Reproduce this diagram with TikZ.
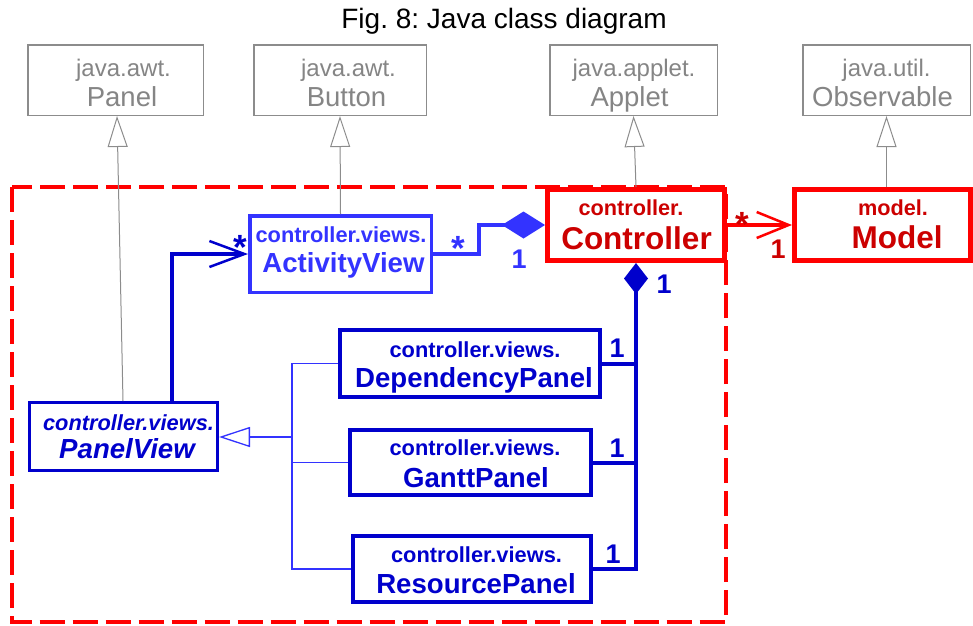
\documentclass[tikz,border=0pt]{standalone}
\usepackage{fontspec}
\setmainfont{Liberation Sans}
\usetikzlibrary{arrows.meta}
\frenchspacing

\definecolor{libline}{HTML}{8C8C8C}
\definecolor{libtext}{HTML}{858585}
\definecolor{ctrlred}{HTML}{FF0000}
\definecolor{ctrltext}{HTML}{CC0000}
\definecolor{viewnavy}{HTML}{0000CC}
\definecolor{viewblue}{HTML}{3333FF}

\tikzset{
  box/.style={draw, rectangle, inner sep=0pt, fill=white},
  libbox/.style={box, draw=libline, line width=1.5pt},
  corebox/.style={box, draw=ctrlred, line width=5pt, minimum height=71pt},
  navybox/.style={box, draw=viewnavy, line width=4pt},
  bluebox/.style={box, draw=viewblue, line width=3.5pt},
  txt/.style={anchor=base, inner sep=0pt},
  libpkg/.style={txt, text=libtext, font=\fontsize{24}{26}\selectfont},
  libname/.style={txt, text=libtext, font=\fontsize{27.5}{30}\selectfont},
  corepkg/.style={txt, text=ctrltext, font=\fontsize{21.7}{24}\selectfont\bfseries},
  corename/.style={txt, text=ctrltext, font=\fontsize{31.5}{34}\selectfont\bfseries},
  viewpkg/.style={txt, font=\fontsize{21.8}{24}\selectfont\bfseries},
  viewname/.style={txt, font=\fontsize{27.6}{30}\selectfont\bfseries},
  mult/.style={txt, font=\fontsize{27}{30}\selectfont\bfseries},
  many/.style={txt, font=\fontsize{35}{38}\selectfont\bfseries},
  inhgrey/.style={draw=libline, line width=1pt,
    -{Triangle[open, length=31pt, width=20pt, line width=1pt]}},
  inhblue/.style={draw=viewblue, line width=1.3pt,
    -{Triangle[open, length=31pt, width=20pt, line width=1.3pt]}},
  treeblue/.style={draw=viewblue, line width=1.3pt},
  navyline/.style={draw=viewnavy, line width=4pt},
  navyassoc/.style={navyline,
    -{Straight Barb[length=35pt, width=26pt, line width=2.5pt]}},
  redassoc/.style={draw=ctrlred, line width=4pt,
    -{Straight Barb[length=32pt, width=26pt, line width=2.5pt]}},
  navycomp/.style={navyline, {Diamond[length=31pt, width=24pt]}-},
  bluecomp/.style={draw=viewblue, line width=3.5pt,
    {Diamond[length=43pt, width=27pt]}-},
  pkgframe/.style={draw=ctrlred, line width=4pt, dash pattern=on 25pt off 8pt}
}

\begin{document}
\begin{tikzpicture}[x=1pt, y=-1pt, line join=miter]
\useasboundingbox (0,0) rectangle (973,625);

% title
\node[txt, font=\fontsize{28}{30}\selectfont] (title) at (504,28) {Fig. 8: Java class diagram};

% package frame around the controller classes
\draw[pkgframe] (12,187) rectangle (726,621.5);

% library classes
\node[libbox, minimum width=175.5pt, minimum height=70.5pt] (panel)  at (115.5,80) {};
\node[libbox, minimum width=172.5pt, minimum height=70.5pt] (button) at (340,80) {};
\node[libbox, minimum width=167.5pt, minimum height=70.5pt] (applet) at (633.5,80) {};
\node[libbox, minimum width=167.5pt, minimum height=70.5pt] (observ) at (886.5,80) {};

% application classes
\node[corebox, minimum width=177pt] (ctrl)  at (636,225) {};
\node[corebox, minimum width=176pt] (model) at (882.5,225) {};
\node[bluebox, minimum width=181.5pt, minimum height=76.5pt] (av) at (340.5,254) {};
\node[navybox, line width=3pt, minimum width=188pt, minimum height=68pt] (pv) at (123.5,436.5) {};
\node[navybox, minimum width=260pt, minimum height=67pt] (dep)   at (470,363.5) {};
\node[navybox, minimum width=241pt, minimum height=65pt] (gantt) at (470.5,462.5) {};
\node[navybox, minimum width=238pt, minimum height=66pt] (res)   at (472,569) {};

% generalisations to library classes
\draw[inhgrey] ([xshift=-0.5pt]pv.north) -- ([xshift=1.5pt]panel.south);
\draw[inhgrey] (av.north) -- (button.south);
\draw[inhgrey] (ctrl.north) -- (applet.south);
\draw[inhgrey] (model.north -| observ.south) -- (observ.south);

% controller -> model
\draw[redassoc] (ctrl.east) -- (model.west);

% controller owns activity views
\coordinate (avbend) at (479,225);
\draw[bluecomp] (ctrl.west) -- (avbend) |- (av.east);

% panel view -> activity view
\draw[navyassoc] ([xshift=48.5pt]pv.north) |- (av.west);

% panels specialise the panel view
\coordinate (gj) at (292,437);
\draw[inhblue] (gj) -- (gj -| pv.east);
\draw[treeblue] (dep.west) -| (gj);
\draw[treeblue] (res.west) -| (gj);
\draw[treeblue] (gantt.west) -- (gantt.west -| gj);

% controller owns the panels
\draw[navycomp] (ctrl.south) -- (ctrl.south |- res.east) -- (res.east);
\draw[navyline] (dep.east) -- (dep.east -| ctrl.south);
\draw[navyline] (gantt.east) -- (gantt.east -| ctrl.south);

% class names
\node[libpkg]  (panel-p)  at (123.5,76) {java.awt.};
\node[libname] (panel-n)  at (122,106) {Panel};
\node[libpkg]  (button-p) at (348.5,76) {java.awt.};
\node[libname] (button-n) at (346.5,106) {Button};
\node[libpkg]  (applet-p) at (634,76) {java.applet.};
\node[libname] (applet-n) at (629.5,106) {Applet};
\node[libpkg]  (observ-p) at (886.5,76) {java.util.};
\node[libname] (observ-n) at (882.5,106) {Observable};

\node[corepkg]  (ctrl-p)  at (631,215) {controller.};
\node[corename] (ctrl-n)  at (636.5,249) {Controller};
\node[corepkg]  (model-p) at (893,215) {model.};
\node[corename] (model-n) at (897,248) {Model};

\node[viewpkg, text=viewblue]  (av-p) at (341,242) {controller.views.};
\node[viewname, text=viewblue] (av-n) at (343.5,272) {ActivityView};
\node[viewpkg, text=viewnavy, font=\fontsize{21.8}{24}\selectfont\bfseries\itshape]  (pv-p) at (128.5,430) {controller.views.};
\node[viewname, text=viewnavy, font=\fontsize{27.6}{30}\selectfont\bfseries\itshape] (pv-n) at (127,458) {PanelView};
\node[viewpkg, text=viewnavy]  (dep-p)   at (475,357) {controller.views.};
\node[viewname, text=viewnavy] (dep-n)   at (474,387) {DependencyPanel};
\node[viewpkg, text=viewnavy]  (gantt-p) at (475,455) {controller.views.};
\node[viewname, text=viewnavy] (gantt-n) at (476,487) {GanttPanel};
\node[viewpkg, text=viewnavy]  (res-p)   at (476.5,562) {controller.views.};
\node[viewname, text=viewnavy] (res-n)   at (476,593) {ResourcePanel};

% multiplicities
\node[many, text=ctrltext] (m-model-s) at (742,236) {*};
\node[mult, text=ctrltext] (m-model-1) at (778,258) {1};
\node[many, text=viewnavy] (m-av-s)    at (240,259) {*};
\node[many, text=viewblue] (m-avc-s)   at (458,260) {*};
\node[mult, text=viewblue] (m-avc-1)   at (519,268) {1};
\node[mult, text=viewnavy] (m-ctrl-1)  at (664,293) {1};
\node[mult, text=viewnavy] (m-dep-1)   at (617,357) {1};
\node[mult, text=viewnavy] (m-gantt-1) at (617,457) {1};
\node[mult, text=viewnavy] (m-res-1)   at (613,563) {1};
\end{tikzpicture}
\end{document}
